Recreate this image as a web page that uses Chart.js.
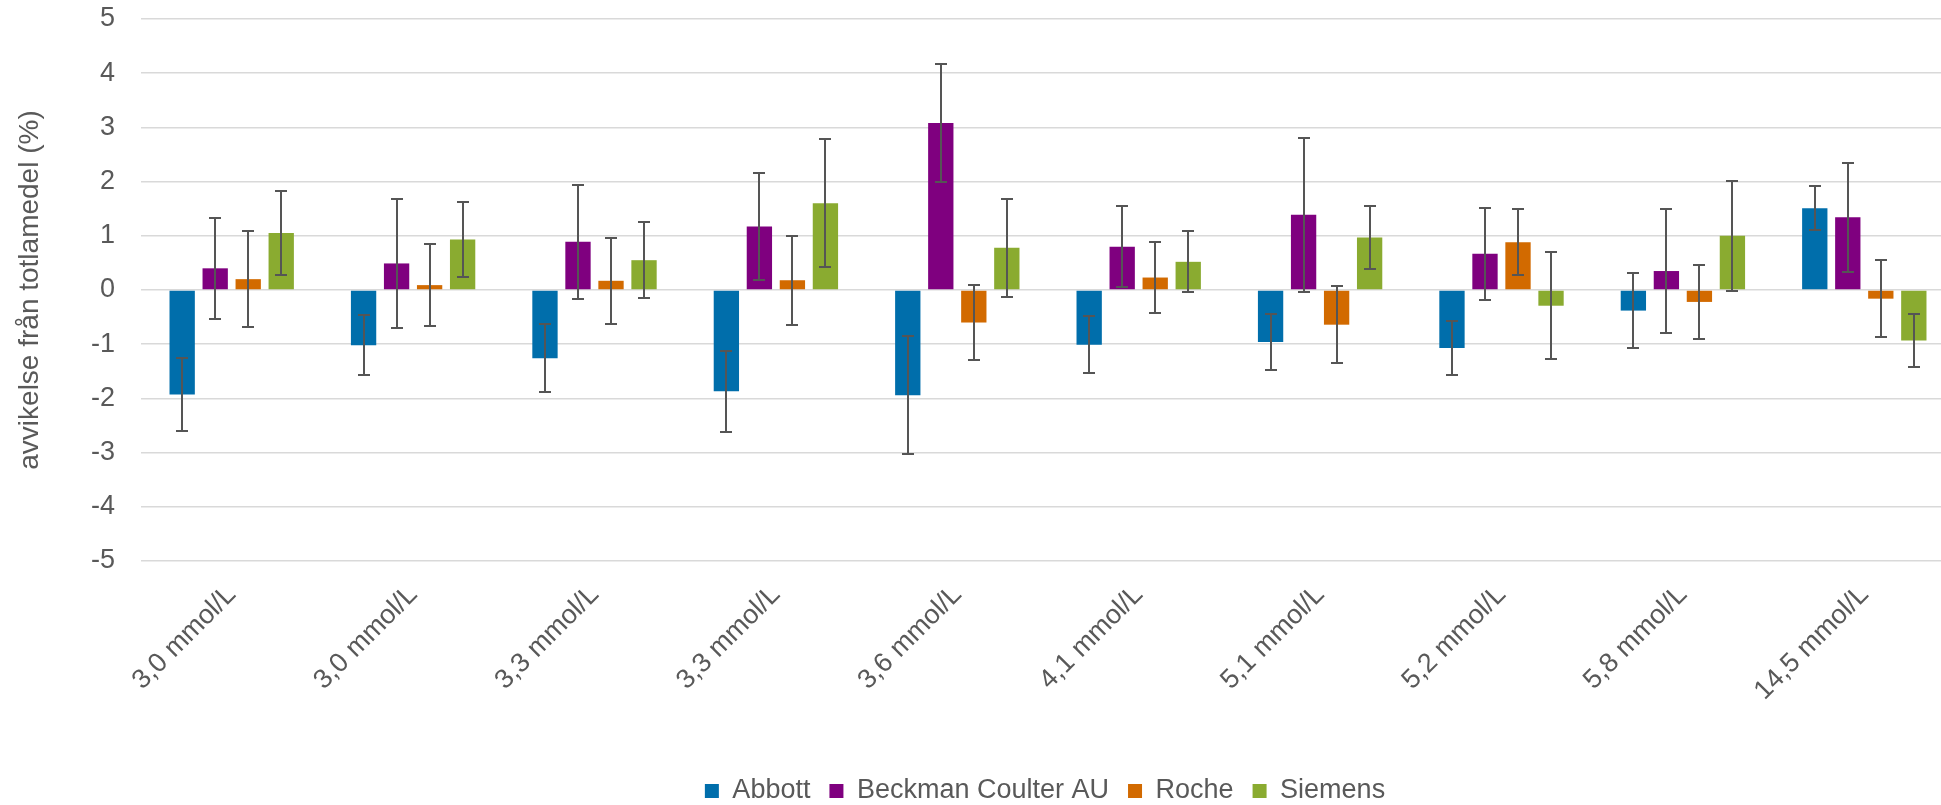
<!DOCTYPE html>
<html>
<head>
<meta charset="utf-8">
<script src="https://cdn.jsdelivr.net/npm/chart.js@4.4.0/dist/chart.umd.min.js"></script>
<style>
  html, body { margin: 0; padding: 0; background: #fff; overflow: hidden; }
  canvas { display: block; }
</style>
</head>
<body>
<canvas id="chart" width="1955" height="805"></canvas>
<script>
'use strict';

// koncentrationsnivåer
var labels = ['3,0 mmol/L', '3,0 mmol/L', '3,3 mmol/L', '3,3 mmol/L', '3,6 mmol/L',
  '4,1 mmol/L', '5,1 mmol/L', '5,2 mmol/L', '5,8 mmol/L', '14,5 mmol/L'];

// avvikelse (%) per system
var abbott  = [-1.93, -1.02, -1.26, -1.87, -1.94, -1.01, -0.96, -1.07, -0.38, 1.51];
var beckman = [0.40, 0.49, 0.89, 1.17, 3.08, 0.80, 1.39, 0.67, 0.35, 1.34];
var roche   = [0.20, 0.09, 0.17, 0.18, -0.60, 0.23, -0.64, 0.88, -0.22, -0.16];
var siemens = [1.05, 0.93, 0.55, 1.60, 0.78, 0.52, 0.97, -0.29, 1.00, -0.93];

// felstaplar (+/-)
var abbottErr  = [0.67, 0.55, 0.63, 0.75, 1.09, 0.53, 0.51, 0.49, 0.69, 0.41];
var beckmanErr = [0.93, 1.19, 1.05, 0.99, 1.09, 0.75, 1.42, 0.85, 1.15, 1.00];
var rocheErr   = [0.89, 0.76, 0.79, 0.82, 0.69, 0.65, 0.71, 0.61, 0.68, 0.71];
var siemensErr = [0.77, 0.69, 0.70, 1.18, 0.90, 0.56, 0.58, 0.99, 1.01, 0.49];

var textColor = '#595959';
var fontFamily = "'Liberation Sans', Arial, sans-serif";
var legendPad = 19;

// error bars
var errorBars = {
  id: 'errorBars',
  afterDatasetsDraw: function(chart) {
    var ctx = chart.ctx;
    var yScale = chart.scales.y;
    ctx.save();
    ctx.strokeStyle = '#555555';
    ctx.lineWidth = 2;
    chart.data.datasets.forEach(function(ds, i) {
      var meta = chart.getDatasetMeta(i);
      meta.data.forEach(function(bar, j) {
        var v = ds.data[j];
        var e = ds.errors[j];
        var top = Math.round(yScale.getPixelForValue(v + e));
        var bot = Math.round(yScale.getPixelForValue(v - e));
        var x = Math.round(bar.x);
        ctx.beginPath();
        ctx.moveTo(x, top);
        ctx.lineTo(x, bot);
        ctx.moveTo(x - 6, top);
        ctx.lineTo(x + 6, top);
        ctx.moveTo(x - 6, bot);
        ctx.lineTo(x + 6, bot);
        ctx.stroke();
      });
    });
    ctx.restore();
  }
};

// flytta legenden till rätt plats
var legendShift = {
  id: 'legendShift',
  afterLayout: function(chart) {
    var lg = chart.legend;
    var dx = 1045 - (lg.left + lg.right) / 2;
    var dy = 791 - (lg.top + legendPad + 13.5);
    lg.left += dx; lg.right += dx;
    lg.top += dy; lg.bottom += dy;
  }
};

function makeSet(name, data, errs, color) {
  return {
    label: name,
    data: data,
    errors: errs,
    backgroundColor: color,
    borderWidth: 0,
    categoryPercentage: 0.728,
    barPercentage: 0.767
  };
}

new Chart(document.getElementById('chart'), {
  type: 'bar',
  data: {
    labels: labels,
    datasets: [
      makeSet('Abbott', abbott, abbottErr, '#006EAB'),
      makeSet('Beckman Coulter AU', beckman, beckmanErr, '#7F007F'),
      makeSet('Roche', roche, rocheErr, '#D26A00'),
      makeSet('Siemens', siemens, siemensErr, '#8AAB30')
    ]
  },
  options: {
    responsive: false,
    animation: false,
    devicePixelRatio: 1,
    layout: {
      padding: { top: 19, right: 0, bottom: 0, left: 0 }
    },
    scales: {
      x: {
        grid: { display: false, drawTicks: false },
        border: { display: false },
        ticks: {
          color: textColor,
          font: { family: fontFamily, size: 27 },
          minRotation: 45,
          maxRotation: 45,
          autoSkip: false,
          padding: 18
        },
        afterFit: function(scale) {
          var lg = scale.chart.legend;
          scale.height = 805 - 561 - (lg ? lg.height : 0);
          scale.paddingTop = 0;
          scale.paddingBottom = 0;
        }
      },
      y: {
        min: -5,
        max: 5,
        grid: { color: '#d9d9d9', lineWidth: 1.5, drawTicks: false },
        border: { display: false },
        ticks: {
          stepSize: 1,
          color: textColor,
          font: { family: fontFamily, size: 27 },
          padding: 26
        },
        title: {
          display: true,
          text: 'avvikelse från totlamedel (%)',
          color: textColor,
          font: { family: fontFamily, size: 28 },
          padding: { top: 13, bottom: 0 }
        },
        afterFit: function(scale) {
          scale.width = 141;
          scale.paddingTop = 0;
          scale.paddingBottom = 0;
        }
      }
    },
    plugins: {
      legend: {
        position: 'bottom',
        labels: {
          boxWidth: 14,
          boxHeight: 14,
          padding: legendPad,
          color: textColor,
          font: { family: fontFamily, size: 27 }
        }
      },
      tooltip: { enabled: false }
    }
  },
  plugins: [errorBars, legendShift]
});
</script>
</body>
</html>
